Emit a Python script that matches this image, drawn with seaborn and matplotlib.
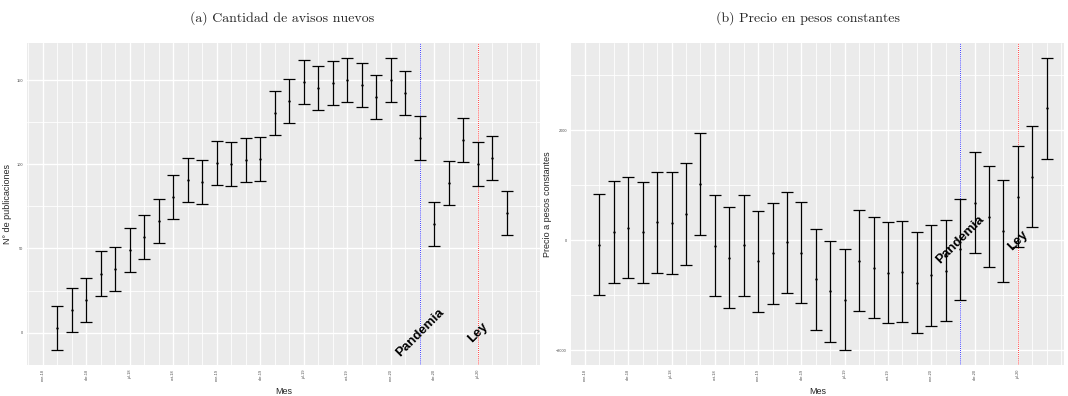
import numpy as np
import pandas as pd
import matplotlib
matplotlib.use("Agg")
import matplotlib.pyplot as plt
import seaborn as sns

# meses: 1 = feb-18 ... 32 = sep-20 (0 = ene-18)
meses = list(range(1, 33))

avisos_media = [2.6, 13.7, 19.2, 35.1, 37.8, 48.9, 56.6, 66.1, 80.4, 90.7, 89.3,
                100.8, 100.2, 102.4, 103.3, 130.3, 137.6, 148.9, 145.1, 148.5, 150.2,
                147.1, 140.0, 149.9, 142.2, 115.6, 64.5, 89.1, 114.6, 100.4, 103.6, 71.3]
avisos_err = 13.1

precio_media = [-79, 150, 223, 145, 326, 313, 476, 1020, -98, -315, -91,
                -380, -236, -36, -225, -707, -931, -1082, -375, -496, -587,
                -574, -774, -634, -551, -163, 681, 428, 168, 790, 1152, 2397]
precio_err = 918

tick_pos = [0, 3, 6, 9, 12, 15, 18, 21, 24, 27, 30]
tick_labels = ["ene-18", "abr-18", "jul-18", "oct-18", "ene-19", "abr-19",
               "jul-19", "oct-19", "ene-20", "abr-20", "jul-20"]

pandemia = 26   # mar-20
ley = 30        # jul-20

sns.set_theme(style="darkgrid", rc={"axes.facecolor": "#EBEBEB",
                                    "grid.color": "white"})
plt.rcParams["font.family"] = ["Liberation Sans", "DejaVu Sans"]

fig = plt.figure(figsize=(10.68, 3.96), dpi=100)
ax1 = fig.add_axes([27 / 1068, 1 - 365 / 396, 513 / 1068, 322 / 396])
ax2 = fig.add_axes([571 / 1068, 1 - 365 / 396, 493 / 1068, 322 / 396])


def panel(ax, media, err, ylabel, yticks, yminor, ylim, xlim):
    ax.errorbar(meses, media, yerr=err, fmt="none", ecolor="black",
                elinewidth=0.9, capsize=4.3, capthick=0.9, zorder=3)
    sns.scatterplot(x=meses, y=media, ax=ax, color="black", s=3,
                    linewidth=0, zorder=4)
    ax.axvline(pandemia, color="blue", linestyle=(0, (1, 1.5)), linewidth=0.6, zorder=2)
    ax.axvline(ley, color="red", linestyle=(0, (1, 1.5)), linewidth=0.6, zorder=2)
    ax.text(pandemia, 0, "Pandemia", rotation=45, ha="center", va="center",
            fontsize=9.5, fontweight="bold", color="black", zorder=5)
    ax.text(ley, 0, "Ley", rotation=45, ha="center", va="center",
            fontsize=9.5, fontweight="bold", color="black", zorder=5)

    ax.set_xticks(tick_pos)
    ax.set_xticklabels(tick_labels, rotation=90)
    ax.set_xticks(range(-1, 35), minor=True)
    ax.set_yticks(yticks)
    ax.set_yticks(yminor, minor=True)
    ax.grid(which="major", color="white", linewidth=1.0)
    ax.grid(which="minor", color="white", linewidth=0.6)
    ax.tick_params(which="major", length=2, width=0.5, color="#333333",
                   labelsize=2.8, labelcolor="#4D4D4D", pad=1)
    ax.tick_params(which="minor", length=0)
    ax.set_xlim(xlim)
    ax.set_ylim(ylim)
    ax.set_xlabel("Mes", fontsize=6.5, labelpad=4)
    ax.set_ylabel(ylabel, fontsize=6.5, labelpad=3)
    for s in ax.spines.values():
        s.set_visible(False)


panel(ax1, avisos_media, avisos_err, "N° de publicaciones",
      [0, 50, 100, 150], [25, 75, 125], (-19.2, 172), (-1.1, 34.3))
panel(ax2, precio_media, precio_err, "Precio a pesos constantes",
      [-2000, 0, 2000], [-1000, 1000, 3000], (-2266, 3581), (-0.97, 33.2))

fig.text(282 / 1068, 1 - 18 / 396, "(a) Cantidad de avisos nuevos",
         ha="center", va="center", fontsize=10, family=["cmr10", "DejaVu Serif"])
fig.text(808 / 1068, 1 - 18 / 396, "(b) Precio en pesos constantes",
         ha="center", va="center", fontsize=10, family=["cmr10", "DejaVu Serif"])

fig.savefig("out.png", dpi=100)
